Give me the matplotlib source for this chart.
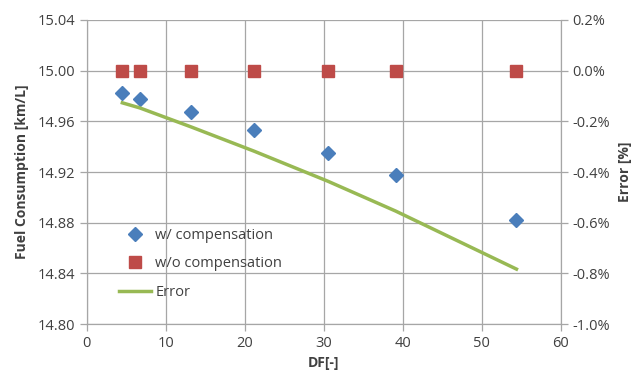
import matplotlib
matplotlib.use("Agg")
import matplotlib.pyplot as plt
from matplotlib.ticker import FuncFormatter

df = [4.5, 6.7, 13.2, 21.2, 30.5, 39.1, 54.4]
fc_with = [14.982, 14.978, 14.967, 14.953, 14.935, 14.918, 14.882]
fc_without = [15.0, 15.0, 15.0, 15.0, 15.0, 15.0, 15.0]
error_pct = [-0.127, -0.147, -0.222, -0.318, -0.436, -0.554, -0.783]

plt.rcParams['font.family'] = ['Open Sans', 'DejaVu Sans']
grid_c = '#a6a6a6'
txt_c = '#404040'

fig = plt.figure(figsize=(6.43, 3.76), dpi=100)
ax = fig.add_axes([0.135, 0.138, 0.737, 0.809])
ax2 = ax.twinx()

ax.set_xlim(0, 60)
ax.set_ylim(14.80, 15.04)
ax.set_xticks(range(0, 61, 10))
ax.set_yticks([14.80, 14.84, 14.88, 14.92, 14.96, 15.00, 15.04])
ax.yaxis.set_major_formatter(FuncFormatter(lambda v, p: f"{v:.2f}"))
ax.grid(True, color=grid_c, linewidth=0.9)
ax.set_axisbelow(True)

ax2.set_ylim(-1.0, 0.2)
ax2.set_yticks([-1.0, -0.8, -0.6, -0.4, -0.2, 0.0, 0.2])
ax2.yaxis.set_major_formatter(FuncFormatter(lambda v, p: f"{v:.1f}%"))

l1, = ax.plot(df, fc_with, linestyle='none', marker='D', markersize=7, color='#4a7ebb', label='w/ compensation')
l2, = ax.plot(df, fc_without, linestyle='none', marker='s', markersize=9, color='#be4b48', label='w/o compensation')
l3, = ax2.plot(df, error_pct, color='#98b954', linewidth=2.5, label='Error')

for a in (ax, ax2):
    for s in a.spines.values():
        s.set_color(grid_c)
    a.tick_params(colors=grid_c, labelcolor=txt_c, labelsize=10.5, length=5, width=0.9)
ax.spines['top'].set_visible(False)
ax2.spines['top'].set_visible(False)

ax.set_xlabel('DF[-]', fontsize=10, fontweight='bold', color=txt_c, labelpad=4)
ax.set_ylabel('Fuel Consumption [km/L]', fontsize=10, fontweight='bold', color=txt_c, labelpad=6)
ax2.set_ylabel('Error [%]', fontsize=10, fontweight='bold', color=txt_c, labelpad=6)

leg = ax.legend(handles=[l1, l2, l3], loc='lower left', bbox_to_anchor=(0.04, 0.035),
                frameon=False, fontsize=10.5, labelspacing=0.95, handlelength=2.2,
                handletextpad=0.3, labelcolor=txt_c)

fig.savefig('out.png', dpi=100)
